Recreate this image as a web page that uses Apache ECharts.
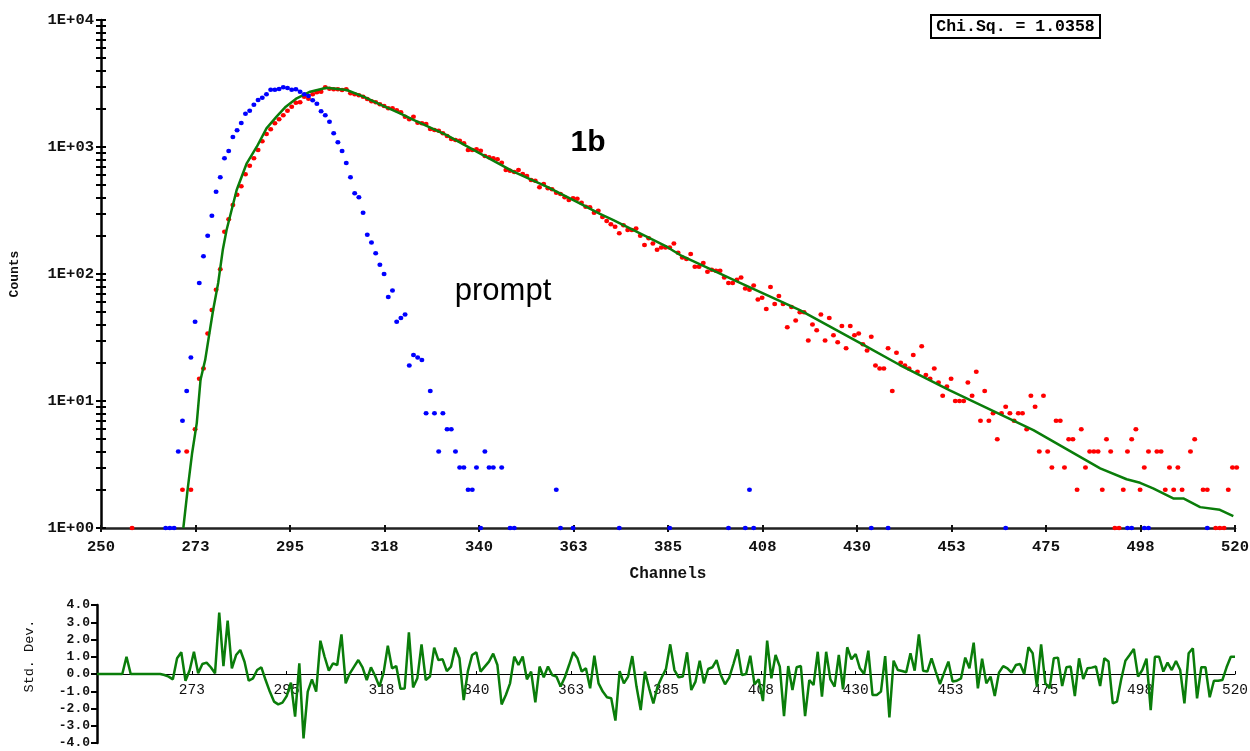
<!DOCTYPE html>
<html>
<head>
<meta charset="utf-8">
<script src="https://cdn.jsdelivr.net/npm/echarts@6/dist/echarts.min.js"></script>
<style>
  html, body { margin: 0; padding: 0; background: #ffffff; }
  #chart { width: 1250px; height: 751px; }
</style>
</head>
<body>
<div id="chart"></div>
<script>
// ---------------- data ----------------
const xTickValues = [250, 272.5, 295, 317.5, 340, 362.5, 385, 407.5, 430, 452.5, 475, 497.5, 520];
const yDecadeValues = [1, 10, 100, 1000, 10000];
const residTickValues = [-4, -3, -2, -1, 0, 1, 2, 3, 4];

// measured decay (red), one value per channel starting at redStart (null = 0 counts)
const redStart = 250;
const redCounts = [
  null,null,null,null,null,null,null,1,null,null,
  null,null,null,null,null,null,null,null,null,2,
  4,2,6,15,18,34,52,75,109,215,
  270,350,420,490,609,713,815,947,1108,1266,
  1378,1536,1651,1776,1931,2078,2235,2250,2490,2403,
  2602,2697,2729,2952,2878,2844,2844,2811,2844,2649,
  2602,2553,2490,2388,2291,2250,2166,2103,2016,2016,
  1950,1876,1733,1651,1733,1554,1536,1518,1386,1361,
  1345,1282,1221,1157,1135,1122,1069,947,947,959,
  935,849,829,815,800,753,659,651,636,659,
  613,591,550,543,481,511,473,464,437,427,
  402,383,395,392,364,339,335,304,315,281,
  262,247,235,209,242,222,222,228,200,169,
  191,174,155,162,162,162,174,147,135,131,
  144,114,114,122,104,108,106,106,94,85,
  85,90,94,77,75,81,63,65,53,79,
  58,67,58,38,55,43,50,50,30,40,
  36,48,30,45,33,29,39,26,39,33,
  34,28,25,32,19,18,18,26,12,24,
  20,19,18,23,17,27,16,15,18,14,
  11,13,15,10,10,10,14,11,17,7,
  12,7,8,5,8,9,8,7,8,8,
  6,11,9,4,11,4,3,7,7,3,
  5,5,2,6,3,4,4,4,2,5,
  4,1,1,2,4,5,6,2,3,4,
  null,4,4,2,3,2,3,2,null,4,
  5,null,2,2,null,1,1,1,2,3,
  3
];

// prompt (blue), dense part
const blueStart = 265;
const blueCounts = [
  1,1,1,4,7,12,22,42,85,138,
  200,288,445,577,815,930,1199,1353,1545,1830,
  1931,2155,2344,2447,2602,2827,2827,2864,2952,2915,
  2827,2846,2729,2600,2522,2331,2193,1910,1776,1583,
  1282,1089,930,748,577,432,402,304,204,177,
  146,118,100,66,74,42,45,48,19,23,
  22,21,8,12,8,4,8,6,6,4,
  3,3,2,2,3,1,4,3,3,null,
  3,null,1,1
];
// prompt (blue), sparse tail
const blueTailChannels = [358, 359, 362, 373, 385, 399, 403, 404, 405, 433, 437, 465, 494, 495, 498, 499, 513];
const blueTailCounts   = [2,   1,   1,   1,   1,   1,   1,   2,   1,   1,   1,   1,   1,   1,   1,   1,   1];

// fitted curve (green)
const fitChannels = [269.6, 270.6, 271.7, 272.8, 273.7, 274.8, 275.8, 276.7, 277.9, 279.0, 279.9, 282.3, 284.7, 287.1, 289.4, 291.8, 294.0, 296.6, 299.8, 303.7, 308.5, 312.5, 316.8, 321.2, 324.4, 332.3, 340.2, 348.2, 356.1, 364.0, 368.8, 372.0, 379.9, 384.7, 387.9, 400.6, 416.4, 432.3, 440.2, 452.1, 456.1, 472.0, 487.9, 494.2, 497.4, 500.5, 505.3, 507.7, 511.7, 516.4, 519.6];
const fitCounts   = [1.0, 1.98, 3.9, 6.7, 14.7, 21, 34, 52, 85, 155, 222, 459, 744, 1005, 1403, 1734, 2076, 2417, 2725, 2931, 2810, 2490, 2140, 1841, 1632, 1242, 892, 639, 487, 360, 297, 266, 197, 164, 141, 90, 52, 26.8, 19.2, 12.1, 10.5, 5.9, 2.95, 2.42, 2.27, 2.05, 1.71, 1.71, 1.46, 1.39, 1.24];

// weighted residuals (Std. Dev.), one per channel from residStart
const residStart = 250;
const residuals = [
  0,0,0,0,0,0,0,1.0,0,0,
  0,0,0,0,0,0,-0.06,-0.15,-0.31,0.91,
  1.26,-0.39,0.23,1.29,0.04,0.58,0.66,0.39,0.04,3.56,
  0.46,3.09,0.33,1.10,1.39,0.71,-0.39,-0.25,0.23,0.39,
  -0.35,-1.02,-1.60,-1.76,-1.66,-1.28,-0.50,-2.47,0.62,-3.73,
  -1.02,-0.31,-1.02,1.93,1.00,0.19,0.62,0.52,2.30,-0.54,
  0.04,0.43,0.81,0.39,-0.35,0.39,-0.12,-0.73,0.08,1.64,
  0.33,0.46,-0.86,-0.84,2.42,-0.78,-0.25,1.72,-0.35,-0.15,
  1.53,0.81,0.85,0.17,0.43,1.53,0.91,-1.51,0.17,1.10,
  1.26,0.14,0.43,0.72,1.18,0.52,-1.76,-1.22,-0.54,1.01,
  0.52,1.01,-0.31,0.14,-1.64,0.43,-0.19,0.43,-0.06,-0.15,
  -0.73,-0.19,0.52,1.26,0.91,0.14,0.33,-0.83,1.06,-0.54,
  -1.02,-1.35,-1.41,-2.70,0.17,-0.54,-0.15,1.04,-0.73,-2.09,
  0.14,-0.83,-1.70,-0.73,-0.19,0.30,1.72,0.23,-0.19,-0.15,
  1.26,-0.93,-0.44,0.77,-0.54,0.29,0.39,0.81,-0.06,-0.60,
  -0.21,0.58,1.43,-0.06,0.0,1.06,-0.60,-0.31,-1.57,1.93,
  -0.25,1.10,0.43,-2.44,0.46,-0.93,0.39,0.46,-2.44,-0.35,
  -0.64,1.29,-1.31,1.29,-0.31,-0.73,1.10,-0.89,1.55,0.85,
  1.16,0.33,0.0,1.35,-1.22,-1.22,-1.02,1.04,-2.51,0.77,
  0.23,0.17,0.10,1.20,0.19,2.30,0.19,0.14,0.91,0.14,
  -0.58,0.08,0.72,-0.44,-0.39,-0.25,0.95,0.33,1.82,-0.83,
  0.89,-0.54,-0.15,-1.28,0.08,0.46,0.33,0.08,0.52,0.58,
  0.0,1.55,1.20,-0.73,1.72,-0.54,-0.83,0.91,0.95,-0.70,
  0.39,0.43,-1.28,0.91,-0.29,0.33,0.37,0.43,-0.70,0.91,
  0.72,-1.70,-1.60,-0.31,0.77,1.10,1.45,-0.15,0.23,0.89,
  -2.09,1.00,1.00,0.14,0.66,0.23,0.75,0.23,-1.70,1.20,
  1.49,-1.41,0.39,0.39,-1.35,-0.39,-0.39,-0.35,0.39,1.00,
  1.00
];

const chiSqText = 'Chi.Sq. = 1.0358';

// ---------------- build ----------------
const DOT_OFFSET = 0.4; // dots drawn near bin centre
function denseToPairs(start, arr, off) {
  const out = [];
  arr.forEach((v, i) => { if (v !== null) out.push([start + i + off, v]); });
  return out;
}
const redData = denseToPairs(redStart, redCounts, DOT_OFFSET);
const blueData = denseToPairs(blueStart, blueCounts, DOT_OFFSET)
  .concat(blueTailChannels.map((c, i) => [c + DOT_OFFSET, blueTailCounts[i]]));
const fitData = fitChannels.map((c, i) => [c, fitCounts[i]]);
const residData = residuals.map((v, i) => [residStart + i, v]);

const minorTicks = [];
for (let d = 1; d < 10000; d *= 10) for (let k = 1; k < 10; k++) minorTicks.push(d * k);
minorTicks.push(10000);

const mono = 'Liberation Mono, DejaVu Sans Mono, monospace';
const sans = 'Liberation Sans, Arial, sans-serif';
const axisColor = '#111';

// residual panel geometry (zero line sits 69px above its bottom edge)
const residTop = 605, residHeight = 138, residZeroOffset = -69;

const chart = echarts.init(document.getElementById('chart'), null, { renderer: 'canvas' });
const option = {
  backgroundColor: '#ffffff',
  animation: false,
  grid: [
    { left: 101, top: 20, width: 1134, height: 508, outerBoundsMode: 'none', containLabel: false },
    { left: 97, top: residTop, width: 1138, height: residHeight, outerBoundsMode: 'none', containLabel: false }
  ],
  xAxis: [
    {
      gridIndex: 0, type: 'value', min: 250, max: 520,
      axisLine: { onZero: false, lineStyle: { color: '#222', width: 2.5 } },
      axisTick: { show: true, length: 4, customValues: xTickValues, lineStyle: { color: '#111', width: 2 } },
      axisLabel: { customValues: xTickValues, formatter: v => String(Math.round(v)), margin: 11,
        fontFamily: mono, fontWeight: 'bold', fontSize: 15.5, color: axisColor },
      splitLine: { show: false },
      name: 'Channels', nameLocation: 'middle', nameGap: 38,
      nameTextStyle: { fontFamily: mono, fontWeight: 'bold', fontSize: 16, color: axisColor }
    },
    {
      gridIndex: 0, type: 'value', min: 250, max: 520, position: 'bottom',
      axisLine: { show: false, onZero: false },
      axisTick: { show: true, inside: true, length: 3, customValues: xTickValues, lineStyle: { color: '#111', width: 2 } },
      axisLabel: { show: false }, splitLine: { show: false }
    },
    {
      gridIndex: 1, type: 'value', min: 250, max: 520, position: 'bottom', offset: residZeroOffset,
      axisLine: { onZero: false, lineStyle: { color: '#000', width: 1.2 } },
      axisTick: { show: true, length: 3, inside: true, customValues: xTickValues.slice(1), lineStyle: { color: '#000', width: 1 } },
      axisLabel: { customValues: xTickValues.slice(1), formatter: v => String(Math.round(v)), margin: 9,
        fontFamily: mono, fontSize: 14.5, color: axisColor },
      splitLine: { show: false }
    }
  ],
  yAxis: [
    {
      gridIndex: 0, type: 'log', logBase: 10, min: 1, max: 10000,
      axisLine: { show: true, lineStyle: { color: '#000', width: 2.5 } },
      axisTick: { show: true, length: 5, customValues: minorTicks, lineStyle: { color: '#000', width: 2 } },
      axisLabel: { customValues: yDecadeValues, margin: 7,
        formatter: v => '1E+' + String(Math.round(Math.log10(v))).padStart(2, '0'),
        fontFamily: mono, fontWeight: 'bold', fontSize: 15.5, color: axisColor },
      splitLine: { show: false },
      name: 'Counts', nameLocation: 'middle', nameGap: 80, nameRotate: 90,
      nameTextStyle: { fontFamily: mono, fontWeight: 'bold', fontSize: 13, color: axisColor }
    },
    {
      gridIndex: 0, type: 'log', logBase: 10, min: 1, max: 10000, position: 'left',
      axisLine: { show: false },
      axisTick: { show: true, inside: true, length: 5, customValues: minorTicks, lineStyle: { color: '#000', width: 2 } },
      axisLabel: { show: false }, splitLine: { show: false }
    },
    {
      gridIndex: 1, type: 'value', min: -4, max: 4, interval: 1,
      axisLine: { show: true, onZero: false, lineStyle: { color: '#000', width: 2.5 } },
      axisTick: { show: true, length: 6, customValues: residTickValues, lineStyle: { color: '#000', width: 2 } },
      axisLabel: { customValues: residTickValues, formatter: v => v.toFixed(1), margin: 7,
        fontFamily: mono, fontWeight: 'bold', fontSize: 13, color: axisColor },
      splitLine: { show: false }
    }
  ],
  series: [
    {
      name: 'decay', type: 'scatter', xAxisIndex: 0, yAxisIndex: 0, data: redData,
      symbol: 'circle', symbolSize: [5, 4.5], itemStyle: { color: '#ff0000', opacity: 1 }, clip: false, z: 2
    },
    {
      name: 'fit', type: 'line', xAxisIndex: 0, yAxisIndex: 0, data: fitData,
      showSymbol: false, lineStyle: { color: '#0a7d0a', width: 2.5 }, z: 3
    },
    {
      name: 'prompt', type: 'scatter', xAxisIndex: 0, yAxisIndex: 0, data: blueData,
      symbol: 'circle', symbolSize: [5, 4.5], itemStyle: { color: '#0000ff', opacity: 1 }, clip: false, z: 4
    },
    {
      name: 'residuals', type: 'line', xAxisIndex: 2, yAxisIndex: 2, data: residData,
      showSymbol: false, lineStyle: { color: '#0a7d0a', width: 2.5 }, z: 3
    }
  ],
  graphic: [
    { type: 'rect', shape: { x: 931, y: 15, width: 169, height: 23 },
      style: { fill: '#fff', stroke: '#000', lineWidth: 2 } },
    { type: 'text', x: 1015.5, y: 27,
      style: { text: chiSqText, fontFamily: mono, fontWeight: 'bold', fontSize: 16.5, fill: '#000',
        align: 'center', verticalAlign: 'middle' } },
    { type: 'text', x: 588, y: 143,
      style: { text: '1b', fontFamily: sans, fontWeight: 'bold', fontSize: 30, fill: '#000',
        align: 'center', verticalAlign: 'middle' } },
    { type: 'text', x: 503, y: 291,
      style: { text: 'prompt', fontFamily: sans, fontSize: 31, fill: '#000',
        align: 'center', verticalAlign: 'middle' } },
    { type: 'text', x: 29, y: 656, rotation: Math.PI / 2,
      style: { text: 'Std. Dev.', fontFamily: mono, fontSize: 13.5, fill: '#111',
        align: 'center', verticalAlign: 'middle' } }
  ]
};
chart.setOption(option);
</script>
</body>
</html>
